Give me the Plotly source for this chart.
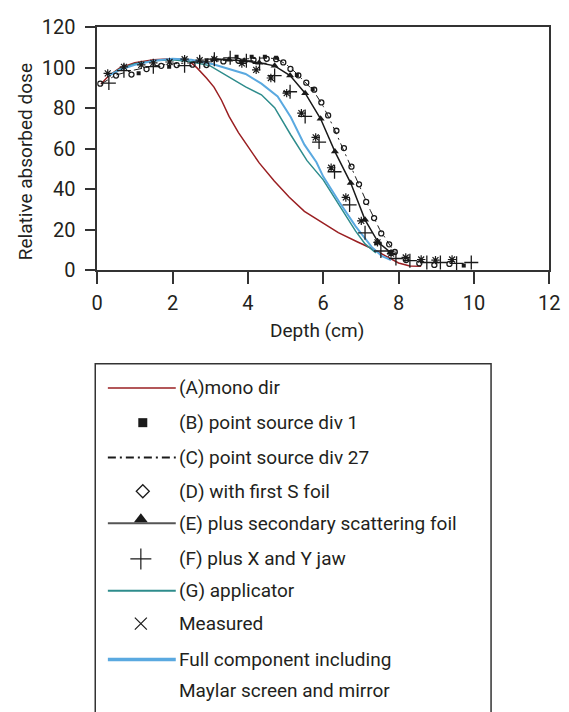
import plotly.graph_objects as go

W, H = 569, 712
FONT = "Roboto, Liberation Sans, Arial, sans-serif"
TXT = "#231f20"

# ---------------- data ----------------
a_x = [0.1, 0.3, 0.6, 1.0, 1.5, 2.0, 2.4, 2.65, 2.9, 3.1, 3.3, 3.5, 3.75, 4.0, 4.3, 4.7, 5.1, 5.5, 6.0, 6.4, 6.9, 7.3, 7.7, 8.0, 8.3, 8.6]
a_y = [92, 96, 100, 102.5, 104, 104.5, 104, 100, 95, 90.5, 84, 76, 68, 61, 53, 44, 36, 29, 23, 18.5, 14, 10.5, 6.5, 3.5, 2, 1.8]

b_x = [1.1, 1.91, 2.9, 3.7, 4.1, 4.45, 4.75, 5.3, 5.72, 7.41, 7.76, 9.73]
b_y = [97.3, 100.6, 103.8, 105.5, 105.5, 105.5, 105, 96.5, 89.5, 13.2, 8.9, 2.2]

c_x = [0.1, 0.5, 1.0, 1.5, 2.0, 2.5, 3.0, 3.5, 4.0, 4.5, 4.75, 5.0, 5.25, 5.5, 5.75, 6.0, 6.25, 6.5, 6.75, 7.0, 7.25, 7.5, 7.75, 7.9]
c_y = [92, 96.5, 99, 101, 102, 102.5, 103, 104, 104.5, 105, 104.5, 102, 98, 93.5, 88.5, 81, 71.5, 61, 50.5, 40, 29.5, 20, 12.5, 8.5]

d_x = [0.08, 0.5, 0.91, 1.31, 1.7, 2.11, 2.53, 2.9, 3.35, 3.75, 4.15, 4.5, 4.75, 4.94, 5.13, 5.34, 5.55, 5.76, 5.95, 6.13, 6.35, 6.55, 6.75, 6.95, 7.14, 7.35, 7.54, 7.75, 7.9, 8.2, 8.55, 8.95, 9.35]
d_y = [92.2, 96.2, 96.7, 99.4, 101, 101.4, 101.6, 101.4, 103.2, 103.5, 104, 104.5, 104.3, 102.7, 99.5, 96.3, 92.7, 89.2, 82.9, 76.5, 68.9, 60.3, 51.1, 42.4, 33.7, 25.7, 18.1, 12.7, 8.9, 4.9, 3.3, 2.5, 3.0]

e_x = [3.1, 3.5, 3.9, 4.3, 4.71, 5.12, 5.52, 5.93, 6.31, 6.73, 7.11, 7.46, 7.8]
e_y = [104.3, 104, 103.5, 102.5, 101, 96.2, 87.5, 74.8, 58.6, 43, 24.8, 13.7, 8.5]

f_x = [0.31, 0.71, 1.49, 2.32, 2.72, 3.11, 3.53, 3.96, 4.31, 4.71, 5.12, 5.52, 5.89, 6.3, 6.7, 7.11, 7.53, 7.93, 8.3, 8.75, 9.11, 9.54, 9.93]
f_y = [92.5, 98.6, 100.6, 101.1, 103, 104.3, 105, 103.5, 102.2, 96.2, 88.2, 76, 63.3, 48.6, 32.2, 18.4, 9.4, 5.7, 4.6, 3.7, 3.7, 3.3, 3.7]

g_x = [0.3, 0.6, 1.0, 1.5, 2.0, 2.5, 3.0, 3.5, 3.94, 4.36, 4.71, 5.14, 5.57, 6.0, 6.43, 6.86, 7.11, 7.4]
g_y = [96, 99.5, 102, 103.5, 104, 103, 101, 95.4, 90.6, 86.7, 80.3, 66.8, 54.1, 44.6, 31.9, 19.2, 12.9, 8.5]

m_x = [0.28, 0.71, 1.17, 1.49, 1.92, 2.32, 2.72, 3.11, 3.84, 4.22, 4.61, 5.03, 5.42, 5.8, 6.21, 6.6, 7.01, 7.44, 7.8, 8.19, 8.6, 8.98, 9.42]
m_y = [97.3, 100.5, 101.5, 102.5, 102.9, 104.3, 103.8, 104.3, 102.2, 99, 95, 87.5, 77.6, 65.6, 50.6, 35.9, 24.3, 13.7, 8.1, 6.2, 5.2, 4.9, 5.2]

full_x = [0.3, 0.6, 1.0, 1.5, 2.0, 2.5, 3.08, 3.5, 3.94, 4.36, 4.79, 5.14, 5.5, 5.82, 6.0, 6.43, 6.86, 7.29, 7.55, 7.8]
full_y = [96, 99, 101.5, 103.5, 104.5, 104, 101.8, 99.4, 97, 92.2, 85.9, 75.6, 62, 53.3, 46.2, 33.5, 21.6, 11.3, 7, 4.9]

x_ticks = [0, 2, 4, 6, 8, 10, 12]
y_ticks = [0, 20, 40, 60, 80, 100, 120]

legend_labels = ["(A)mono dir", "(B) point source div 1", "(C) point source div 27",
                 "(D) with first S foil", "(E) plus secondary scattering foil",
                 "(F) plus X and Y jaw", "(G) applicator", "Measured",
                 "Full component including", "Maylar screen and mirror"]

# ---------------- styles ----------------
RED = "#9a1f22"
TEAL = "#2e8c8c"
BLUE = "#5aa9e0"
BLK = "#1a1a1a"
GRY = "#555555"
DASHDOT = "8px,4px,2px,4px"

fig = go.Figure()

main = dict(xaxis="x", yaxis="y", showlegend=False, hoverinfo="skip")
fig.add_trace(go.Scatter(x=a_x, y=a_y, mode="lines", line=dict(color=RED, width=1.5), **main))
fig.add_trace(go.Scatter(x=g_x, y=g_y, mode="lines", line=dict(color=TEAL, width=1.5), **main))
fig.add_trace(go.Scatter(x=full_x, y=full_y, mode="lines", line=dict(color=BLUE, width=2), **main))
fig.add_trace(go.Scatter(x=c_x, y=c_y, mode="lines", line=dict(color=BLK, width=1, dash=DASHDOT), **main))
fig.add_trace(go.Scatter(x=e_x, y=e_y, mode="lines+markers", line=dict(color=BLK, width=1.5),
                         marker=dict(symbol="triangle-up", size=7, color=BLK), **main))
fig.add_trace(go.Scatter(x=d_x, y=d_y, mode="markers",
                         marker=dict(symbol="circle-open", size=5, color=BLK, line=dict(width=1.3)), **main))
fig.add_trace(go.Scatter(x=b_x, y=b_y, mode="markers",
                         marker=dict(symbol="square", size=4, color=BLK), **main))
fig.add_trace(go.Scatter(x=f_x, y=f_y, mode="markers",
                         marker=dict(symbol="cross-thin-open", size=10, color=BLK, line=dict(width=1.3, color=BLK)), **main))
fig.add_trace(go.Scatter(x=m_x, y=m_y, mode="markers",
                         marker=dict(symbol="asterisk-open", size=7, color=BLK, line=dict(width=1.2, color=BLK)), **main))

# ---------------- custom legend (pixel-space overlay axes) ----------------
LEG_LEFT, LEG_TOP, LEG_RIGHT = 92, 364, 500
row_y = [389, 425, 461, 496, 529, 566, 599, 633, 670, 702]
SAMPLE_X0, SAMPLE_X1, MARK_X, TEXT_X = 105, 175, 141, 176

leg = dict(xaxis="x2", yaxis="y2", showlegend=False, hoverinfo="skip", cliponaxis=False)
line_items = {0: dict(color=RED, width=1.5), 2: dict(color=BLK, width=2, dash=DASHDOT),
              4: dict(color=GRY, width=2), 6: dict(color=TEAL, width=2), 8: dict(color=BLUE, width=3.5)}
for i, ln in line_items.items():
    fig.add_trace(go.Scatter(x=[SAMPLE_X0, SAMPLE_X1], y=[row_y[i]] * 2, mode="lines", line=ln, **leg))
mark_items = {1: dict(symbol="square", size=9, color=BLK),
              3: dict(symbol="diamond-open", size=10, color=BLK, line=dict(width=1.3)),
              4: dict(symbol="triangle-up", size=12, color=BLK),
              5: dict(symbol="cross-thin-open", size=15, color=BLK, line=dict(width=1.2, color=BLK)),
              7: dict(symbol="x-thin-open", size=12, color=BLK, line=dict(width=1.2, color=BLK))}
for i, mk in mark_items.items():
    fig.add_trace(go.Scatter(x=[MARK_X - (2 if i >= 4 else 0)], y=[row_y[i] - (4 if i == 4 else 0)],
                             mode="markers", marker=mk, **leg))

annotations = []
for i, lab in enumerate(legend_labels):
    annotations.append(dict(text=lab, x=TEXT_X / W, y=1 - row_y[i] / H, xref="paper", yref="paper",
                            xanchor="left", yanchor="middle", showarrow=False,
                            font=dict(family=FONT, size=19, color=TXT)))
# axis titles
annotations.append(dict(text="Depth (cm)", x=321 / W, y=1 - 330 / H, xref="paper", yref="paper",
                        xanchor="center", yanchor="middle", showarrow=False,
                        font=dict(family=FONT, size=19, color=TXT)))
annotations.append(dict(text="Relative absorbed dose", x=20 / W, y=1 - 155 / H, xref="paper", yref="paper",
                        xanchor="center", yanchor="middle", showarrow=False, textangle=-90,
                        font=dict(family=FONT, size=19, color=TXT)))

shapes = [dict(type="rect", xref="paper", yref="paper", x0=LEG_LEFT / W, x1=LEG_RIGHT / W,
               y0=1 - LEG_TOP / H, y1=-0.1, line=dict(color="#333333", width=1.5), fillcolor="rgba(0,0,0,0)")]

axis_common = dict(showline=True, linecolor="#333333", linewidth=1.5, mirror=True,
                   ticks="outside", tickcolor="#333333", tickwidth=1.5, showgrid=False, zeroline=False,
                   ticklabeloverflow="allow",
                   tickfont=dict(family=FONT, size=20, color=TXT))

fig.update_layout(
    width=W, height=H, margin=dict(l=0, r=0, t=0, b=0),
    paper_bgcolor="white", plot_bgcolor="rgba(0,0,0,0)",
    showlegend=False,
    xaxis=dict(domain=[94 / W, 560 / W], range=[0, 12], tickvals=x_ticks, ticklen=12,
               anchor="y", ticklabelstandoff=2, **axis_common),
    yaxis=dict(domain=[1 - 267 / H, 1 - 16 / H], range=[0, 120], tickvals=y_ticks, ticklen=10,
               anchor="x", ticklabelstandoff=6, **axis_common),
    xaxis2=dict(domain=[0, 1], range=[0, W], visible=False, anchor="y2", fixedrange=True),
    yaxis2=dict(domain=[0, 0.5], range=[H, H / 2], visible=False, anchor="x2", fixedrange=True),
    annotations=annotations, shapes=shapes,
)

fig.write_html("out.html")
